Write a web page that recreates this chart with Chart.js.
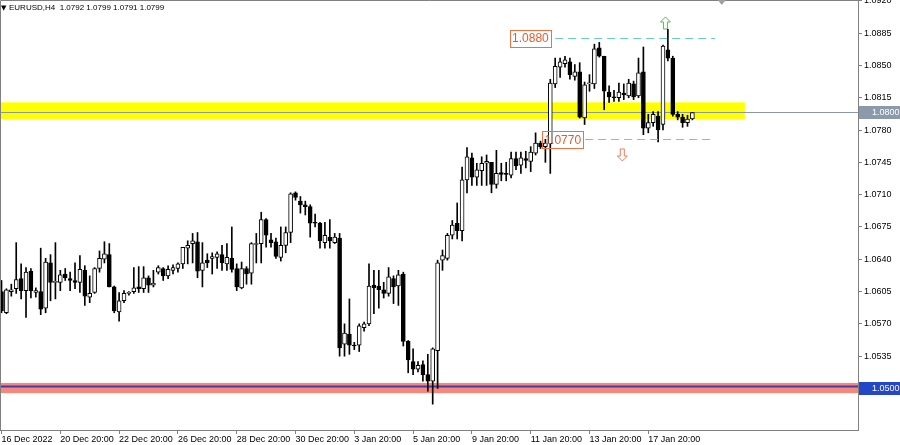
<!DOCTYPE html>
<html>
<head>
<meta charset="utf-8">
<title>EURUSD,H4</title>
<script src="https://cdn.jsdelivr.net/npm/chart.js@4.4.1/dist/chart.umd.min.js"></script>
<style>
  html, body { margin: 0; padding: 0; background: #fff; }
</style>
</head>
<body>
<canvas id="grafica_eurusd" width="900" height="445"></canvas>
<script>
// velas H4 de EURUSD, leidas a ojo del grafico
const opens = [
  1.0605, 1.0582, 1.0605, 1.0608, 1.0619, 1.0606, 1.0627, 1.0604, 1.0605, 1.0587,
  1.0636, 1.0615, 1.0615, 1.0624, 1.0619, 1.0617, 1.0615, 1.0628, 1.0599, 1.0604,
  1.0630, 1.0640, 1.0645, 1.0610, 1.0583, 1.0595, 1.0603, 1.0605, 1.0610, 1.0608,
  1.0620, 1.0612, 1.0626, 1.0630, 1.0622, 1.0628, 1.0630, 1.0635, 1.0652, 1.0657,
  1.0659, 1.0628, 1.0639, 1.0641, 1.0642, 1.0645, 1.0635, 1.0641, 1.0630, 1.0609,
  1.0630, 1.0625, 1.0656, 1.0657, 1.0683, 1.0661, 1.0659, 1.0642, 1.0655, 1.0669,
  1.0712, 1.0703, 1.0699, 1.0697, 1.0680, 1.0679, 1.0658, 1.0664, 1.0658, 1.0663,
  1.0548, 1.0559, 1.0547, 1.0547, 1.0566, 1.0570, 1.0612, 1.0611, 1.0607, 1.0603,
  1.0619, 1.0611, 1.0624, 1.0551, 1.0529, 1.0521, 1.0526, 1.0515, 1.0508, 1.0541,
  1.0639, 1.0641, 1.0666, 1.0679, 1.0671, 1.0726, 1.0750, 1.0729, 1.0736, 1.0744,
  1.0745, 1.0721, 1.0734, 1.0733, 1.0731, 1.0749, 1.0742, 1.0749, 1.0746, 1.0755,
  1.0766, 1.0762, 1.0765, 1.0830, 1.0848, 1.0852, 1.0854, 1.0838, 1.0843, 1.0793,
  1.0830, 1.0830, 1.0869, 1.0860, 1.0821, 1.0816, 1.0815, 1.0820, 1.0817, 1.0830,
  1.0817, 1.0843, 1.0782, 1.0788, 1.0795, 1.0786, 1.0867, 1.0858, 1.0797, 1.0794,
  1.0788, 1.0792
];
const highs = [
  1.0617, 1.0608, 1.0613, 1.0658, 1.0635, 1.0631, 1.0630, 1.0609, 1.0652, 1.0641,
  1.0645, 1.0658, 1.0628, 1.0630, 1.0626, 1.0636, 1.0644, 1.0633, 1.0622, 1.0631,
  1.0649, 1.0659, 1.0657, 1.0611, 1.0604, 1.0606, 1.0605, 1.0631, 1.0632, 1.0632,
  1.0622, 1.0628, 1.0633, 1.0631, 1.0633, 1.0634, 1.0636, 1.0653, 1.0660, 1.0668,
  1.0669, 1.0658, 1.0646, 1.0647, 1.0648, 1.0655, 1.0657, 1.0675, 1.0635, 1.0637,
  1.0632, 1.0658, 1.0668, 1.0691, 1.0684, 1.0668, 1.0663, 1.0675, 1.0675, 1.0712,
  1.0713, 1.0708, 1.0703, 1.0699, 1.0689, 1.0680, 1.0680, 1.0683, 1.0668, 1.0668,
  1.0570, 1.0597, 1.0550, 1.0570, 1.0572, 1.0635, 1.0628, 1.0628, 1.0615, 1.0631,
  1.0622, 1.0628, 1.0626, 1.0552, 1.0543, 1.0529, 1.0530, 1.0537, 1.0544, 1.0639,
  1.0650, 1.0668, 1.0682, 1.0701, 1.0740, 1.0761, 1.0755, 1.0744, 1.0751, 1.0753,
  1.0745, 1.0758, 1.0744, 1.0745, 1.0756, 1.0756, 1.0756, 1.0757, 1.0762, 1.0777,
  1.0768, 1.0770, 1.0835, 1.0858, 1.0858, 1.0860, 1.0858, 1.0851, 1.0853, 1.0832,
  1.0840, 1.0873, 1.0875, 1.0860, 1.0828, 1.0823, 1.0831, 1.0830, 1.0835, 1.0833,
  1.0858, 1.0870, 1.0797, 1.0800, 1.0800, 1.0872, 1.0889, 1.0860, 1.0800, 1.0797,
  1.0796, 1.0799
];
const lows = [
  1.0582, 1.0581, 1.0600, 1.0603, 1.0597, 1.0577, 1.0598, 1.0599, 1.0580, 1.0582,
  1.0595, 1.0597, 1.0606, 1.0617, 1.0606, 1.0608, 1.0604, 1.0590, 1.0593, 1.0603,
  1.0626, 1.0636, 1.0610, 1.0582, 1.0573, 1.0593, 1.0601, 1.0603, 1.0604, 1.0604,
  1.0604, 1.0610, 1.0624, 1.0617, 1.0619, 1.0624, 1.0626, 1.0630, 1.0635, 1.0636,
  1.0620, 1.0610, 1.0631, 1.0624, 1.0630, 1.0628, 1.0628, 1.0626, 1.0606, 1.0608,
  1.0613, 1.0613, 1.0636, 1.0636, 1.0653, 1.0653, 1.0641, 1.0638, 1.0647, 1.0658,
  1.0704, 1.0690, 1.0688, 1.0664, 1.0675, 1.0652, 1.0652, 1.0652, 1.0657, 1.0535,
  1.0535, 1.0537, 1.0542, 1.0540, 1.0562, 1.0568, 1.0581, 1.0587, 1.0598, 1.0600,
  1.0592, 1.0590, 1.0546, 1.0517, 1.0515, 1.0518, 1.0508, 1.0497, 1.0483, 1.0500,
  1.0628, 1.0639, 1.0662, 1.0662, 1.0660, 1.0712, 1.0720, 1.0720, 1.0720, 1.0720,
  1.0712, 1.0717, 1.0725, 1.0725, 1.0728, 1.0737, 1.0733, 1.0739, 1.0735, 1.0753,
  1.0760, 1.0745, 1.0733, 1.0826, 1.0837, 1.0848, 1.0835, 1.0834, 1.0793, 1.0786,
  1.0822, 1.0825, 1.0859, 1.0802, 1.0810, 1.0811, 1.0811, 1.0813, 1.0815, 1.0813,
  1.0815, 1.0775, 1.0777, 1.0784, 1.0767, 1.0780, 1.0855, 1.0795, 1.0791, 1.0783,
  1.0784, 1.0791
];
const closes = [
  1.0584, 1.0607, 1.0607, 1.0618, 1.0606, 1.0626, 1.0606, 1.0606, 1.0586, 1.0637,
  1.0615, 1.0616, 1.0623, 1.0620, 1.0617, 1.0615, 1.0629, 1.0600, 1.0603, 1.0630,
  1.0641, 1.0646, 1.0610, 1.0584, 1.0595, 1.0603, 1.0603, 1.0609, 1.0608, 1.0620,
  1.0612, 1.0614, 1.0631, 1.0622, 1.0629, 1.0631, 1.0635, 1.0653, 1.0655, 1.0660,
  1.0627, 1.0636, 1.0636, 1.0643, 1.0646, 1.0636, 1.0642, 1.0629, 1.0610, 1.0630,
  1.0624, 1.0657, 1.0657, 1.0683, 1.0666, 1.0658, 1.0643, 1.0655, 1.0669, 1.0711,
  1.0707, 1.0699, 1.0697, 1.0679, 1.0679, 1.0660, 1.0666, 1.0660, 1.0664, 1.0544,
  1.0560, 1.0547, 1.0546, 1.0568, 1.0570, 1.0611, 1.0609, 1.0607, 1.0603, 1.0621,
  1.0610, 1.0623, 1.0551, 1.0531, 1.0521, 1.0525, 1.0515, 1.0508, 1.0543, 1.0636,
  1.0644, 1.0666, 1.0677, 1.0671, 1.0726, 1.0751, 1.0729, 1.0737, 1.0744, 1.0746,
  1.0721, 1.0733, 1.0732, 1.0732, 1.0749, 1.0741, 1.0750, 1.0747, 1.0756, 1.0766,
  1.0762, 1.0766, 1.0831, 1.0849, 1.0854, 1.0856, 1.0840, 1.0843, 1.0794, 1.0829,
  1.0830, 1.0868, 1.0860, 1.0822, 1.0816, 1.0815, 1.0821, 1.0818, 1.0831, 1.0816,
  1.0842, 1.0782, 1.0788, 1.0797, 1.0780, 1.0871, 1.0858, 1.0797, 1.0794, 1.0788,
  1.0792, 1.0799
];

// etiquetas del eje de tiempo (una cada 12 velas)
const timeTickIdx = [0, 12, 24, 36, 48, 60, 72, 84, 96, 108, 120, 132];
const timeLabels = ['16 Dec 2022', '20 Dec 20:00', '22 Dec 20:00', '26 Dec 20:00', '28 Dec 20:00', '30 Dec 20:00',
  '3 Jan 20:00', '5 Jan 20:00', '9 Jan 20:00', '11 Jan 20:00', '13 Jan 20:00', '17 Jan 20:00'];
// etiquetas del eje de precios
const priceTicks = [1.0500, 1.0535, 1.0570, 1.0605, 1.0640, 1.0675, 1.0710, 1.0745, 1.0780, 1.0815, 1.0850, 1.0885, 1.0920];

// niveles dibujados sobre el grafico
const yellowZone = [1.0792, 1.0810];
const redZone = [1.0495, 1.0506];
const supportLevel = 1.0502;
const supportLabel = 1.0500;
const bidPrice = 1.0800;
const upperLevel = 1.0880;
const lowerLevel = 1.0770;
const title = 'EURUSD,H4  1.0792 1.0799 1.0791 1.0799';

const bodies = opens.map((o, i) => ({ x: i, y: [o, closes[i]] }));
const wicks = highs.map((h, i) => ({ x: i, y: [lows[i], h] }));
const bodyFill = opens.map((o, i) => closes[i] >= o ? '#ffffff' : '#000000');

const FONT = '"Liberation Sans", Arial, sans-serif';

// dibuja zonas, niveles, flechas y etiquetas (estilo MetaTrader)
const overlay = {
  id: 'overlay',
  beforeDatasetsDraw(chart) {
    const { ctx, chartArea: a, scales: { x, y } } = chart;
    ctx.save();
    // zona amarilla
    const yTop = y.getPixelForValue(yellowZone[1]);
    const yBot = y.getPixelForValue(yellowZone[0]);
    ctx.fillStyle = '#ffff00';
    ctx.fillRect(a.left, yTop, x.getPixelForValue(151.7) - a.left, yBot - yTop);
    // zona roja abajo
    const rTop = y.getPixelForValue(redZone[1]);
    const rBot = y.getPixelForValue(redZone[0]);
    ctx.fillStyle = '#f8877a';
    ctx.fillRect(a.left, rTop, a.right - a.left, rBot - rTop);
    // linea de soporte 1.0500
    const sy = y.getPixelForValue(supportLevel);
    ctx.strokeStyle = '#3b3cae';
    ctx.lineWidth = 2;
    ctx.beginPath(); ctx.moveTo(a.left, sy); ctx.lineTo(a.right, sy); ctx.stroke();
    // linea bid
    const by = Math.round(y.getPixelForValue(bidPrice)) + 0.5;
    ctx.strokeStyle = '#8898a8';
    ctx.lineWidth = 1;
    ctx.beginPath(); ctx.moveTo(a.left, by); ctx.lineTo(a.right, by); ctx.stroke();
    ctx.restore();
  },
  afterDatasetsDraw(chart) {
    const { ctx, scales: { x, y } } = chart;
    ctx.save();
    // niveles punteados
    ctx.strokeStyle = '#66cccc';
    ctx.lineWidth = 1;
    ctx.setLineDash([8, 5]);
    const uy = Math.round(y.getPixelForValue(upperLevel)) + 0.5;
    const ly = Math.round(y.getPixelForValue(lowerLevel)) + 0.5;
    ctx.beginPath(); ctx.moveTo(x.getPixelForValue(113), uy); ctx.lineTo(x.getPixelForValue(145.6), uy); ctx.stroke();
    ctx.beginPath(); ctx.moveTo(x.getPixelForValue(119.1), ly); ctx.lineTo(x.getPixelForValue(145.6), ly); ctx.stroke();
    ctx.setLineDash([]);
    // etiquetas de precio
    ctx.font = '12px ' + FONT;
    ctx.textBaseline = 'middle';
    ctx.textAlign = 'right';
    const tags = [[upperLevel, 112.1], [lowerLevel, 118.7]];
    tags.forEach(([lv, idx]) => {
      const txt = lv.toFixed(4);
      const w = ctx.measureText(txt).width;
      const r = x.getPixelForValue(idx);
      const cy = y.getPixelForValue(lv);
      ctx.strokeStyle = '#f07040';
      ctx.strokeRect(Math.round(r - w - 4) + 0.5, Math.round(cy - 8) + 0.5, Math.round(w + 4), 17);
      ctx.fillStyle = '#e8582a';
      ctx.fillText(txt, r - 2, cy + 1);
    });
    // flecha verde arriba
    const ax = x.getPixelForValue(135.5), ay = y.getPixelForValue(1.0896);
    ctx.strokeStyle = '#55bb55';
    ctx.beginPath();
    ctx.moveTo(ax, ay - 6); ctx.lineTo(ax + 5, ay - 1); ctx.lineTo(ax + 2, ay - 1); ctx.lineTo(ax + 2, ay + 6);
    ctx.lineTo(ax - 2, ay + 6); ctx.lineTo(ax - 2, ay - 1); ctx.lineTo(ax - 5, ay - 1); ctx.closePath();
    ctx.stroke();
    // flecha roja abajo
    const dx = x.getPixelForValue(126.7), dy = y.getPixelForValue(1.0753);
    ctx.strokeStyle = '#f07a5a';
    ctx.beginPath();
    ctx.moveTo(dx, dy + 6); ctx.lineTo(dx + 5, dy + 1); ctx.lineTo(dx + 2, dy + 1); ctx.lineTo(dx + 2, dy - 6);
    ctx.lineTo(dx - 2, dy - 6); ctx.lineTo(dx - 2, dy + 1); ctx.lineTo(dx - 5, dy + 1); ctx.closePath();
    ctx.stroke();
    ctx.restore();
  },
  afterDraw(chart) {
    const { ctx, chartArea: a, scales: { x, y } } = chart;
    ctx.save();
    // marco arriba e izquierda
    ctx.strokeStyle = '#808080';
    ctx.lineWidth = 1;
    ctx.beginPath(); ctx.moveTo(a.left + 0.5, a.bottom); ctx.lineTo(a.left + 0.5, a.top + 0.5); ctx.lineTo(a.right, a.top + 0.5); ctx.stroke();
    // marcador de desplazamiento
    const mx = x.getPixelForValue(147);
    ctx.fillStyle = '#a0a0a0';
    ctx.beginPath(); ctx.moveTo(mx - 4, a.top); ctx.lineTo(mx + 4, a.top); ctx.lineTo(mx, a.top + 5); ctx.closePath(); ctx.fill();
    // cajas de precio en el eje
    ctx.font = '9px ' + FONT;
    ctx.textBaseline = 'middle';
    ctx.textAlign = 'left';
    const boxes = [[bidPrice, '#8a9aab'], [supportLabel, '#2447c8']];
    boxes.forEach(([p, col]) => {
      const cy = Math.round(y.getPixelForValue(p));
      ctx.fillStyle = col;
      ctx.fillRect(a.right + 1, cy - 6, 42, 13);
      ctx.fillStyle = '#ffffff';
      ctx.fillText(p.toFixed(4), a.right + 14, cy + 0.5);
    });
    // titulo
    ctx.fillStyle = '#000';
    ctx.font = '7px "DejaVu Sans"';
    ctx.fillText('\u25BC', 1, 8);
    ctx.font = '8px ' + FONT;
    ctx.fillText(title, 9, 8);
    ctx.restore();
  }
};

document.addEventListener('DOMContentLoaded', () => {
  const ctx = document.getElementById('grafica_eurusd').getContext('2d');

  new Chart(ctx, {
    type: 'bar',
    data: {
      datasets: [{
        label: 'cuerpos',
        data: bodies,
        grouped: false,
        barThickness: 4,
        minBarLength: 1,
        backgroundColor: bodyFill,
        borderColor: '#000000',
        borderWidth: 1,
        borderSkipped: false
      }, {
        label: 'mechas',
        data: wicks,
        grouped: false,
        barThickness: 1,
        backgroundColor: '#000000',
        borderWidth: 0
      }]
    },
    options: {
      responsive: false,
      animation: false,
      layout: { padding: 0 },
      plugins: { legend: { display: false }, tooltip: { enabled: false } },
      scales: {
        x: {
          type: 'linear',
          offset: false,
          min: -0.31,
          max: 174.8,
          afterBuildTicks: s => { s.ticks = timeTickIdx.map(v => ({ value: v })); },
          afterFit: s => { s.height = 15; s.paddingLeft = 0; s.paddingRight = 0; },
          ticks: {
            autoSkip: false,
            maxRotation: 0,
            align: 'start',
            padding: 0,
            color: '#000',
            font: { family: FONT, size: 9 },
            callback: (v, i) => timeLabels[i]
          },
          grid: { drawOnChartArea: false, offset: false, tickLength: 4, color: '#808080' },
          border: { color: '#808080' }
        },
        y: {
          type: 'linear',
          position: 'right',
          min: 1.04550,
          max: 1.09209,
          afterBuildTicks: s => { s.ticks = priceTicks.map(v => ({ value: v })); },
          afterFit: s => { s.width = 42; s.paddingTop = 0; s.paddingBottom = 0; },
          ticks: {
            padding: 2,
            color: '#000',
            font: { family: FONT, size: 9 },
            callback: v => v.toFixed(4)
          },
          grid: { drawOnChartArea: false, tickLength: 4, color: '#808080' },
          border: { color: '#808080' }
        }
      }
    },
    plugins: [overlay]
  });
});
</script>
</body>
</html>
